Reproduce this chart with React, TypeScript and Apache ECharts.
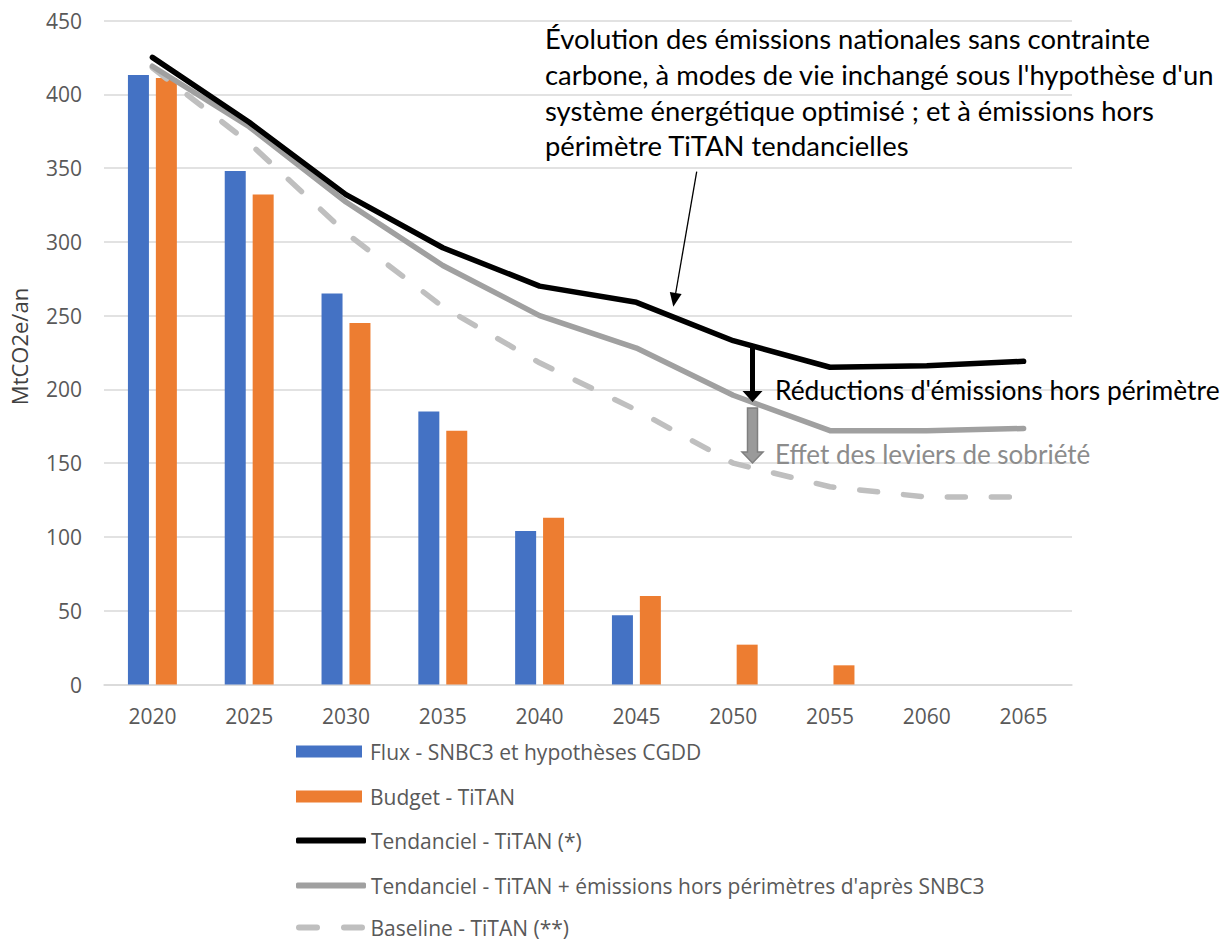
import React, { useEffect, useRef } from "react";
import * as echarts from "echarts";

const categories = ["2020", "2025", "2030", "2035", "2040", "2045", "2050", "2055", "2060", "2065"];
const fluxSNBC3 = [413, 348, 265, 185, 104, 47, null, null, null, null];
const budgetTitan = [411, 332, 245, 172, 113, 60, 27, 13, null, null];
const tendanciel = [425, 381, 332, 296, 270, 259, 233, 215, 216, 219];
const tendancielHors = [419, 378, 327, 284, 250, 228, 196, 172, 172, 173.5];
const baseline = [418, 367, 306, 256, 218, 186, 150, 134, 127, 127];

const yTicks = { min: 0, max: 450, interval: 50 };

const seriesNames = [
  "Flux - SNBC3 et hypothèses CGDD",
  "Budget - TiTAN",
  "Tendanciel - TiTAN (*)",
  "Tendanciel - TiTAN + émissions hors périmètres d'après SNBC3",
  "Baseline - TiTAN (**)",
];

const annotationLines = [
  "Évolution des émissions nationales sans contrainte",
  "carbone, à modes de vie inchangé sous l'hypothèse d'un",
  "système énergétique optimisé ; et à émissions hors",
  "périmètre TiTAN tendancielles",
];

const AXIS_FONT = "'Open Sans', 'Noto Sans', sans-serif";
const NOTE_FONT = "Lato, 'Noto Sans', sans-serif";

const DASH_ICON =
  "path://M3,0H21A3,3,0,0,1,21,6H3A3,3,0,0,1,3,0Z M48,0H66A3,3,0,0,1,66,6H48A3,3,0,0,1,48,0Z";

export default function App() {
  const ref = useRef<HTMLDivElement>(null);

  useEffect(() => {
    if (!ref.current) return;
    const chart = echarts.init(ref.current, undefined, { renderer: "svg" });

    const legendCenters = [752, 797, 841, 886, 928];
    const legendIcons = ["rect", "rect", "roundRect", "roundRect", DASH_ICON];
    const legendColors = ["#4472C4", "#ED7D31", "#000000", "#A0A0A0", "#BFBFBF"];
    const legends = seriesNames.map((name, i) => ({
      data: [{ name, icon: legendIcons[i], itemStyle: { color: legendColors[i] } }],
      left: 296,
      top: legendCenters[i] - 11,
      padding: 0,
      orient: "vertical",
      itemWidth: i < 2 ? 66 : 70,
      itemHeight: i < 2 ? 12 : 6,
      selectedMode: false,
      textStyle: { fontFamily: AXIS_FONT, fontSize: 21, color: "#595959", padding: i < 2 ? [0, 0, 0, 3] : [0, 0, 0, 0] },
    }));

    const option: any = {
      animation: false,
      backgroundColor: "#ffffff",
      grid: { left: 102, right: 156, top: 20.5, bottom: 257.5, containLabel: false },
      legend: legends,
      xAxis: {
        type: "category",
        data: categories,
        boundaryGap: true,
        axisLine: { show: true, lineStyle: { color: "#d9d9d9", width: 1.5 } },
        axisTick: { show: false },
        axisLabel: { fontFamily: AXIS_FONT, fontSize: 21, color: "#595959", margin: 21 },
      },
      yAxis: {
        type: "value",
        min: yTicks.min,
        max: yTicks.max,
        interval: yTicks.interval,
        name: "MtCO2e/an",
        nameLocation: "middle",
        nameGap: 74,
        nameTextStyle: { fontFamily: AXIS_FONT, fontSize: 22, color: "#404040", padding: [0, 0, 0, 12] },
        axisLine: { show: false },
        axisTick: { show: false },
        axisLabel: { fontFamily: AXIS_FONT, fontSize: 21, color: "#595959", margin: 22 },
        splitLine: { lineStyle: { color: "#d9d9d9", width: 1.5 } },
      },
      series: [
        {
          name: seriesNames[0],
          type: "bar",
          data: fluxSNBC3,
          barWidth: 21,
          barGap: "33%",
          itemStyle: { color: "#4472C4" },
        },
        {
          name: seriesNames[1],
          type: "bar",
          data: budgetTitan,
          barWidth: 21,
          barGap: "33%",
          itemStyle: { color: "#ED7D31" },
        },
        {
          name: seriesNames[4],
          type: "line",
          data: baseline,
          symbol: "none",
          showSymbol: false,
          z: 3,
          lineStyle: { color: "#BFBFBF", width: 5.5, type: [18, 26], cap: "round", join: "round" },
          itemStyle: { color: "#BFBFBF" },
        },
        {
          name: seriesNames[3],
          type: "line",
          data: tendancielHors,
          symbol: "none",
          showSymbol: false,
          z: 4,
          lineStyle: { color: "#A0A0A0", width: 5.5, cap: "round", join: "round" },
          itemStyle: { color: "#A0A0A0" },
        },
        {
          name: seriesNames[2],
          type: "line",
          data: tendanciel,
          symbol: "none",
          showSymbol: false,
          z: 5,
          lineStyle: { color: "#000000", width: 5.5, cap: "round", join: "round" },
          itemStyle: { color: "#000000" },
        },
      ],
      graphic: [
        {
          type: "text",
          left: 545,
          top: 21,
          z: 10,
          style: {
            text: annotationLines.join("\n"),
            fontFamily: NOTE_FONT,
            fontSize: 27.4,
            lineHeight: 35.7,
            fill: "#000000",
          },
        },
        {
          type: "line",
          z: 10,
          shape: { x1: 696.7, y1: 171.7, x2: 675.7, y2: 293 },
          style: { stroke: "#000", lineWidth: 1.3 },
        },
        {
          type: "polygon",
          z: 10,
          shape: { points: [[673.3, 306.7], [681.6, 293.9], [669.8, 291.9]] },
          style: { fill: "#000" },
        },
        {
          type: "polygon",
          z: 10,
          shape: {
            points: [[750, 345], [755, 345], [755, 391], [762.5, 391], [752.5, 402], [742.5, 391], [750, 391]],
          },
          style: { fill: "#000" },
        },
        {
          type: "polygon",
          z: 10,
          shape: {
            points: [[747.5, 408], [757.5, 408], [757.5, 452], [763, 452], [752.5, 463], [742, 452], [747.5, 452]],
          },
          style: { fill: "#9a9a9a", stroke: "#7f7f7f", lineWidth: 1.5 },
        },
        {
          type: "text",
          left: 775,
          top: 377,
          z: 10,
          style: {
            text: "Réductions d'émissions hors périmètre",
            fontFamily: NOTE_FONT,
            fontSize: 26.4,
            fill: "#000000",
          },
        },
        {
          type: "text",
          left: 775,
          top: 441,
          z: 10,
          style: {
            text: "Effet des leviers de sobriété",
            fontFamily: NOTE_FONT,
            fontSize: 26,
            fill: "#8c8c8c",
          },
        },
      ],
    };

    chart.setOption(option);
    return () => chart.dispose();
  }, []);

  return <div ref={ref} style={{ position: "fixed", left: 0, top: 0, width: 1228, height: 942 }} />;
}
